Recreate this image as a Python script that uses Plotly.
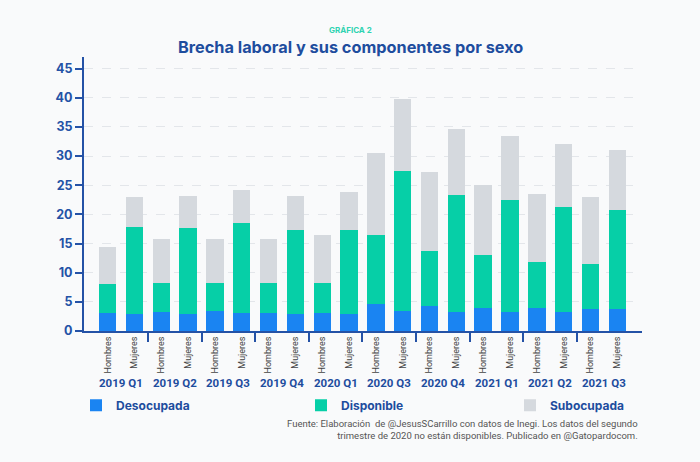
import plotly.graph_objects as go

quarters = ["2019 Q1", "2019 Q2", "2019 Q3", "2019 Q4", "2020 Q1",
            "2020 Q3", "2020 Q4", "2021 Q1", "2021 Q2", "2021 Q3"]
sexes = ["Hombres", "Mujeres"]

# values per bar, order: quarter x sex (Hombres, Mujeres)
desocupada = [3.1, 2.9, 3.2, 2.9, 3.4, 3.1, 3.1, 2.9, 3.1, 2.9,
              4.6, 3.5, 4.3, 3.3, 3.9, 3.3, 3.9, 3.3, 3.7, 3.7]
disponible = [4.9, 14.9, 5.1, 14.7, 4.9, 15.4, 5.2, 14.5, 5.2, 14.5,
              11.8, 23.9, 9.5, 20.0, 9.1, 19.2, 7.9, 17.9, 7.8, 17.1]
subocupada = [6.4, 5.2, 7.4, 5.6, 7.5, 5.7, 7.5, 5.8, 8.1, 6.5,
              14.2, 12.4, 13.5, 11.3, 12.1, 11.0, 11.7, 10.8, 11.5, 10.3]

series = [("Desocupada", desocupada, "#1a84f2"),
          ("Disponible", disponible, "#06cfa7"),
          ("Subocupada", subocupada, "#d5d9de")]

xpos = [qi * len(sexes) + si for qi in range(len(quarters)) for si in range(len(sexes))]
xlabels = [s for _ in quarters for s in sexes]

AXIS = "#2452a6"
TITLE = "#1e4d9e"
BG = "#f9fafb"
FONT = "Inter"
FONT2 = "Roboto"

ML, MR, MT, MB = 84, 58, 57, 131
PW = 700 - ML - MR
legend_ids = ["legend", "legend2", "legend3"]
legend_px = [76, 301, 510]  # page px of each legend's left edge
TITLE_X = (350 - ML) / PW

fig = go.Figure()
for (name, vals, col), lid in zip(series, legend_ids):
    fig.add_trace(go.Bar(x=xpos, y=vals, name=name, marker_color=col,
                         marker_line_width=0, legend=lid))

legend_common = dict(orientation="h", xref="paper", yref="paper", xanchor="left",
                     y=-0.271, yanchor="middle",
                     font=dict(family=FONT, size=12, color=TITLE, weight="bold"),
                     bgcolor="rgba(0,0,0,0)")
fig.update_layout(
    barmode="stack",
    bargap=0.35,
    width=700, height=462,
    margin=dict(l=ML, r=MR, t=MT, b=MB, autoexpand=False),
    paper_bgcolor=BG, plot_bgcolor=BG,
    font=dict(family=FONT, color=AXIS),
    showlegend=True,
    legend=dict(x=(legend_px[0] - ML) / PW, **legend_common),
    legend2=dict(x=(legend_px[1] - ML) / PW, **legend_common),
    legend3=dict(x=(legend_px[2] - ML) / PW, **legend_common),
)

fig.add_annotation(x=TITLE_X, y=1, xref="paper", yref="paper", xanchor="center",
                   yanchor="middle", yshift=27, showarrow=False,
                   text="<b>GRÁFICA 2</b>",
                   font=dict(family=FONT, size=8, color="#2fd3b1"))
fig.add_annotation(x=TITLE_X, y=1, xref="paper", yref="paper", xanchor="center",
                   yanchor="middle", yshift=10, showarrow=False,
                   text="<b>Brecha laboral y sus componentes por sexo</b>",
                   font=dict(family=FONT, size=16.3, color=TITLE))

fig.update_yaxes(range=[0, 47], tickvals=list(range(0, 50, 5)),
                 showline=True, linecolor=AXIS, linewidth=2,
                 ticks="outside", ticklen=7, tickwidth=2, tickcolor=AXIS,
                 tickfont=dict(family=FONT, size=12.5, color=AXIS, weight="bold"),
                 showgrid=True, gridcolor="#e3e6ea", gridwidth=1, griddash="dash",
                 zeroline=False, fixedrange=True)

fig.update_xaxes(range=[-0.88, 19.92], tickmode="array", tickvals=xpos, ticktext=xlabels,
                 tickangle=-90, tickfont=dict(family=FONT2, size=9, color="#444444"),
                 ticks="", showline=True, linecolor=AXIS, linewidth=2,
                 showgrid=False, zeroline=False,
                 minor=dict(tickmode="array",
                            tickvals=[qi * 2 + 1.5 for qi in range(len(quarters) - 1)],
                            ticks="outside", ticklen=9, tickwidth=2, tickcolor=AXIS,
                            showgrid=False))

for qi, q in enumerate(quarters):
    fig.add_annotation(x=qi * 2 + 0.5, y=0, xref="x", yref="paper",
                       yanchor="middle", yshift=-52, showarrow=False,
                       text=f"<b>{q}</b>",
                       font=dict(family=FONT2, size=11.5, color=TITLE))

fig.add_annotation(x=1, y=0, xref="paper", yref="paper", xanchor="right", yanchor="top",
                   xshift=-2, yshift=-85, showarrow=False, align="right",
                   text="Fuente: Elaboración  de @JesusSCarrillo con datos de Inegi. Los datos del segundo<br>trimestre de 2020 no están disponibles. Publicado en @Gatopardocom.",
                   font=dict(family=FONT2, size=9.5, color="#555555"))

fig.write_html("out.html", config={"displayModeBar": False},
               post_script="document.body.style.margin='0';")
